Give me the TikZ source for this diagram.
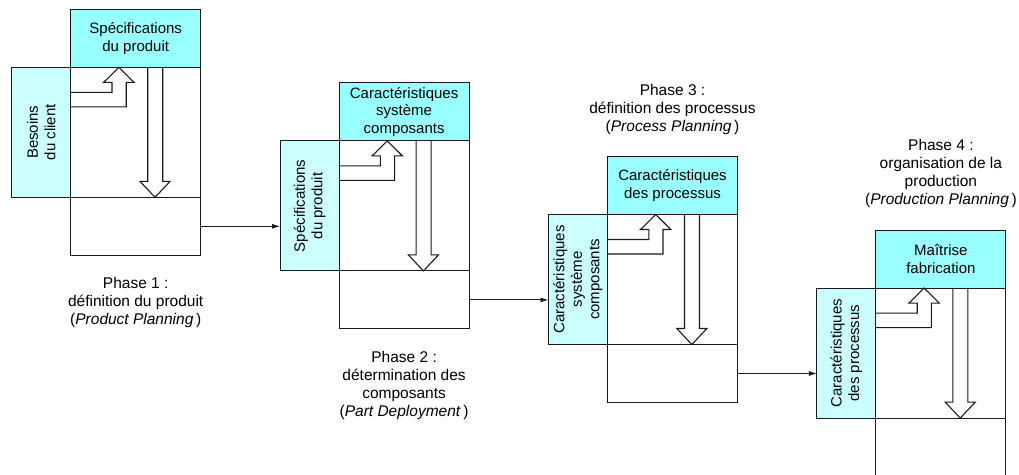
\documentclass[tikz,border=0pt]{standalone}
\usepackage{fontspec}
\setmainfont{Liberation Sans}
\usetikzlibrary{arrows.meta}

\definecolor{headcyan}{HTML}{99FFFF}
\definecolor{inputcyan}{HTML}{CCFFFF}
\definecolor{ink}{HTML}{1A1A1A}

\tikzset{
  frame/.style={draw=ink, line width=1.1pt, outer sep=0pt},
  headbox/.style={frame, fill=headcyan, minimum width=130pt, minimum height=58pt,
    inner sep=0pt, align=center, anchor=north west,
    font=\fontsize{15}{17.5}\selectfont},
  matrixbox/.style={frame, fill=white, minimum width=130pt, minimum height=130pt,
    inner sep=0pt, anchor=north},
  basebox/.style={frame, fill=white, minimum width=130pt, minimum height=58pt,
    inner sep=0pt, anchor=north},
  inputbox/.style={frame, fill=inputcyan, minimum width=59pt, minimum height=130pt,
    inner sep=0pt, anchor=north east},
  inputtext/.style={rotate=90, align=center, inner sep=0pt,
    font=\fontsize{15}{17.5}\selectfont},
  phasetext/.style={align=center, inner sep=0pt,
    font=\fontsize{15.5}{18}\selectfont},
  hollow/.style={draw=ink, line width=1.1pt, line join=miter},
  link/.style={draw=ink, line width=1pt, -{Latex[length=8pt,width=5pt]}},
}

% one house-of-quality stage: heading, matrix, base row and input column
\newcommand\qfdstage[4]{%
  \node[headbox] (h#1) at (#2) {#3};
  \node[matrixbox] (m#1) at (h#1.south) {};
  \node[basebox] (b#1) at (m#1.south) {};
  \node[inputbox] (l#1) at (m#1.north west) {};
  \node[inputtext] (lt#1) at (l#1.center) {#4};
  \begin{scope}[shift={(m#1.north west)}]
    % input turning up into the heading
    \draw[hollow] (0,25) -- (41.3,25) -- (41.3,15) -- (33,15) -- (48.2,0)
      -- (63.3,15) -- (55.5,15) -- (55.5,39.5) -- (0,39.5);
    % heading carried down to the base row
    \draw[hollow] (77,0) -- (77,114) -- (69.3,114) -- (84.3,130)
      -- (99.4,114) -- (92,114) -- (92,0);
  \end{scope}
}

\begin{document}
\begin{tikzpicture}[x=1pt, y=-1pt]
  \clip (0,0) rectangle (1019,474);
  \fill[white] (0,0) rectangle (1019,474);

  \qfdstage{1}{70.7,9.3}{Spécifications\\du produit}{Besoins\\du client}
  \qfdstage{2}{339.1,82.9}{Caractéristiques\\système\\composants}{Spécifications\\du produit}
  \qfdstage{3}{607.5,156.5}{Caractéristiques\\des processus}{Caractéristiques\\système\\composants}
  \qfdstage{4}{875.9,230.1}{Maîtrise\\fabrication}{Caractéristiques\\des processus}

  % links between stages
  \draw[link] (b1.east) -- (b1.east -| l2.west);
  \draw[link] (b2.east) -- (b2.east -| l3.west);
  \draw[link] (b3.east) -- (b3.east -| l4.west);

  % phase captions
  \node[phasetext, anchor=north, yshift=-22pt] (p1) at (b1.south)
    {Phase 1 :\\définition du produit\\(\textit{Product Planning}\,)};
  \node[phasetext, anchor=north, yshift=-22pt] (p2) at (b2.south)
    {Phase 2 :\\détermination des\\composants\\(\textit{Part Deployment}\,)};
  \node[phasetext, anchor=south, yshift=22pt] (p3) at (h3.north)
    {Phase 3 :\\définition des processus\\(\textit{Process Planning}\,)};
  \node[phasetext, anchor=south, yshift=22pt] (p4) at (h4.north)
    {Phase 4 :\\organisation de la\\production\\(\textit{Production Planning}\,)};
\end{tikzpicture}
\end{document}
